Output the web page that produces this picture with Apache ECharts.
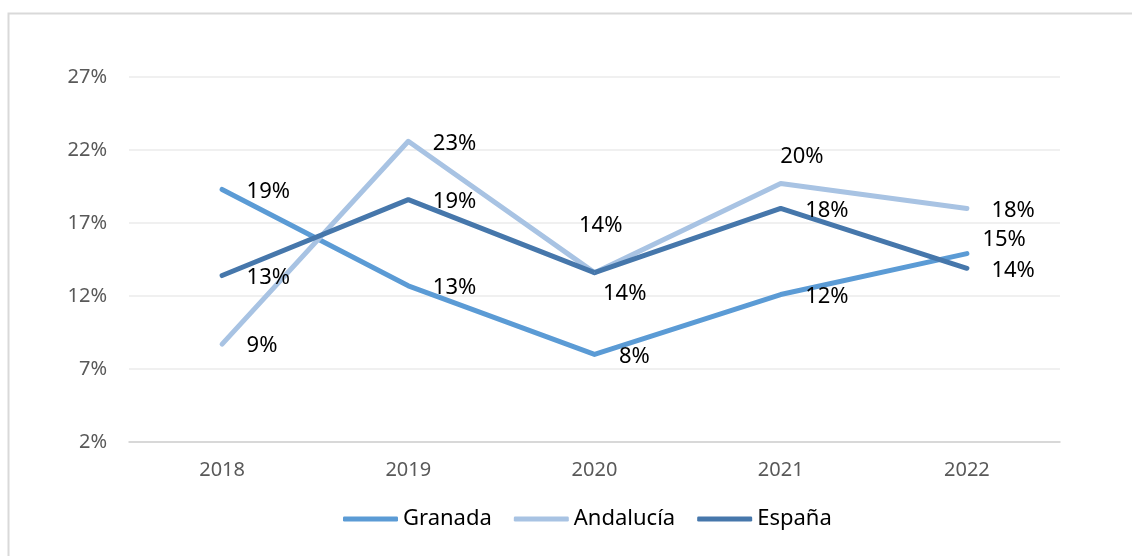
<!DOCTYPE html>
<html>
<head>
<meta charset="utf-8">
<style>
  html, body { margin: 0; padding: 0; background: #fff; }
  #chart { width: 1132px; height: 556px; }
</style>
<script src="https://cdn.jsdelivr.net/npm/echarts@6/dist/echarts.min.js"></script>
</head>
<body>
<div id="chart"></div>
<script>
// data (percent)
const years = ['2018', '2019', '2020', '2021', '2022']
const granada = [19.3, 12.7, 8.0, 12.1, 14.9]
const andalucia = [8.7, 22.6, 13.6, 19.7, 18.0]
const espana = [13.4, 18.6, 13.6, 18.0, 13.9]

// manual label nudges (like the hand-placed labels in the original)
const nudges = {
  Granada: { 4: [-9, -14] },
  'Andalucía': { 2: [-40, -47], 3: [-25, -27] },
  'España': { 2: [-16, 21] }
}

const chart = echarts.init(document.getElementById('chart'))

function makeSeries(name, values, color) {
  const tweak = nudges[name] || {}
  return {
    name: name,
    type: 'line',
    data: values.map((v, i) => ({ value: v, label: { offset: tweak[i] || [0, 2] } })),
    symbol: 'circle',
    symbolSize: 1,
    itemStyle: { color: color },
    lineStyle: { color: color, width: 5, cap: 'round', join: 'round' },
    label: {
      show: true,
      position: 'right',
      distance: 24,
      color: '#000',
      fontSize: 22,
      fontFamily: 'Noto Sans',
      formatter: p => Math.round(p.value) + '%'
    },
    animation: false
  }
}

chart.setOption({
  graphic: [{
    type: 'rect',
    shape: { x: 8.5, y: 13.5, width: 1200, height: 600 },
    style: { fill: 'none', stroke: '#d9d9d9', lineWidth: 2 },
    silent: true
  }],
  grid: {
    left: 129,
    right: 72,
    top: 77,
    bottom: 114
  },
  legend: {
    bottom: 21,
    left: 338,
    icon: 'roundRect',
    itemWidth: 55,
    itemHeight: 5,
    itemGap: 22,
    textStyle: { fontSize: 22, color: '#000', fontFamily: 'Noto Sans' },
    data: ['Granada', 'Andalucía', 'España']
  },
  xAxis: {
    type: 'category',
    data: years,
    boundaryGap: true,
    axisTick: { show: false },
    axisLine: { lineStyle: { color: '#d0d0d0', width: 1.5 } },
    axisLabel: { margin: 18, fontSize: 20, color: '#595959', fontFamily: 'Noto Sans' }
  },
  yAxis: {
    type: 'value',
    min: 2,
    max: 27,
    interval: 5,
    axisLine: { show: false },
    axisTick: { show: false },
    splitLine: { lineStyle: { color: '#ebebeb', width: 1.5 } },
    axisLabel: {
      margin: 22,
      fontSize: 20,
      color: '#595959',
      fontFamily: 'Noto Sans',
      formatter: '{value}%'
    }
  },
  series: [
    makeSeries('Granada', granada, '#5b9bd5'),
    makeSeries('Andalucía', andalucia, '#a8c3e3'),
    makeSeries('España', espana, '#4677ab')
  ]
})
</script>
</body>
</html>
